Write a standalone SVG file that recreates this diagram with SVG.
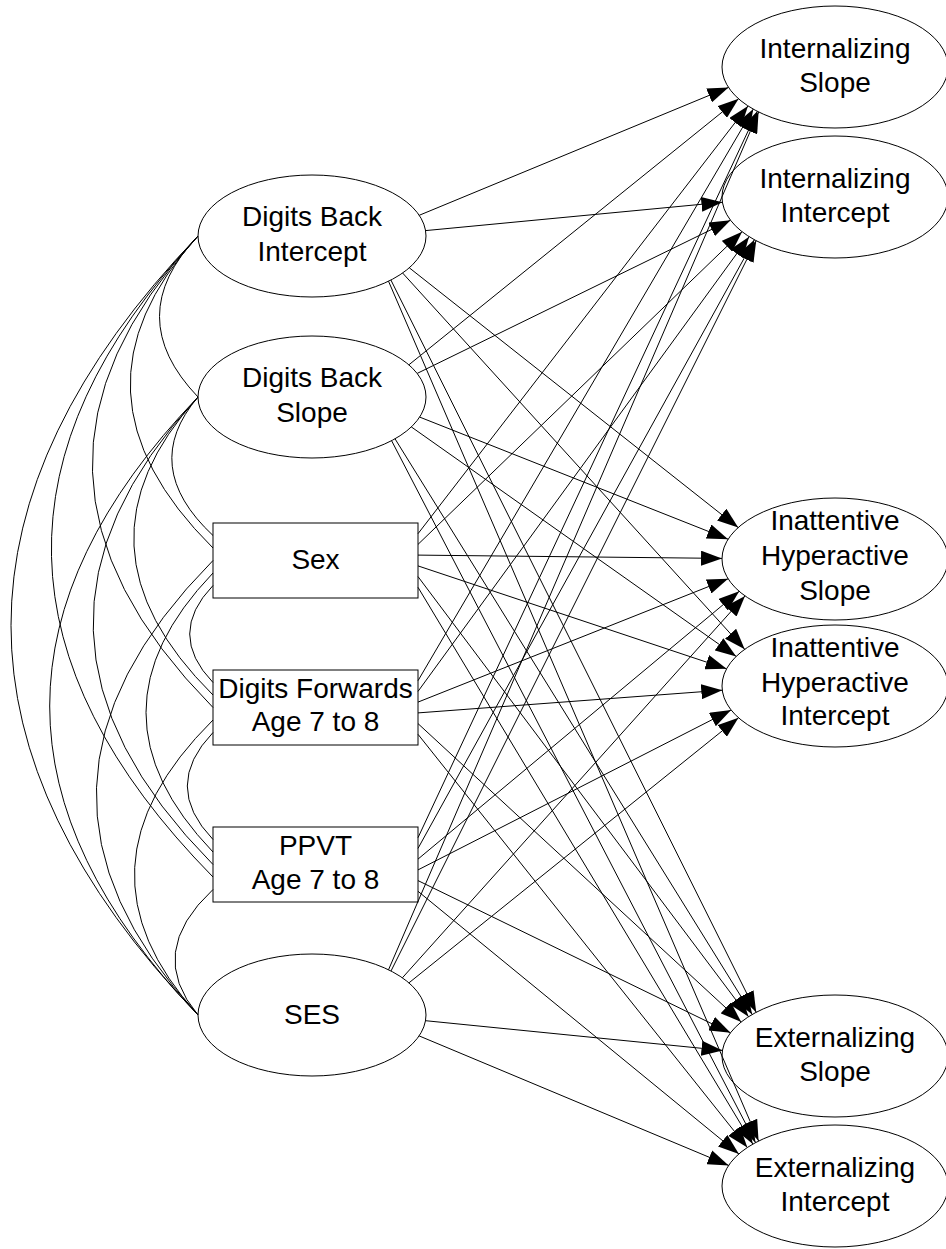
<svg xmlns="http://www.w3.org/2000/svg" width="946" height="1249" viewBox="0 0 946 1249">
<style>
.n{fill:#fff;stroke:#000;stroke-width:1}
.t{font-family:"Liberation Sans",Arial,sans-serif;font-size:28px;fill:#000;text-anchor:middle}
.c{fill:none;stroke:#000;stroke-width:1}
.a{fill:none;stroke:#000;stroke-width:1;marker-end:url(#ah)}
</style>
<defs>
<marker id="ah" markerUnits="userSpaceOnUse" markerWidth="21" markerHeight="15" refX="21" refY="7.5" orient="auto">
<path d="M0,0 L21,7.5 L0,15 z" fill="#000"/>
</marker>
</defs>
<rect width="946" height="1249" fill="#fff"/>
<g id="nodes">
<g id="digits-back-intercept"><ellipse class="n" cx="312" cy="236" rx="114" ry="61"/><text class="t" x="312" y="226">Digits Back</text><text class="t" x="312" y="261">Intercept</text></g>
<g id="digits-back-slope"><ellipse class="n" cx="312" cy="397" rx="114" ry="61"/><text class="t" x="312" y="387">Digits Back</text><text class="t" x="312" y="422">Slope</text></g>
<g id="sex"><rect class="n" x="213" y="523" width="205" height="75"/><text class="t" x="315.5" y="569">Sex</text></g>
<g id="digits-forwards"><rect class="n" x="213" y="670" width="205" height="75"/><text class="t" x="315.5" y="698">Digits Forwards</text><text class="t" x="315.5" y="731">Age 7 to 8</text></g>
<g id="ppvt"><rect class="n" x="213" y="827" width="205" height="75"/><text class="t" x="315.5" y="855">PPVT</text><text class="t" x="315.5" y="889">Age 7 to 8</text></g>
<g id="ses"><ellipse class="n" cx="312" cy="1015" rx="114" ry="61"/><text class="t" x="312" y="1024">SES</text></g>
<g id="internalizing-slope"><ellipse class="n" cx="835" cy="67" rx="113" ry="61"/><text class="t" x="835" y="58">Internalizing</text><text class="t" x="835" y="92">Slope</text></g>
<g id="internalizing-intercept"><ellipse class="n" cx="835" cy="197" rx="113" ry="61"/><text class="t" x="835" y="188">Internalizing</text><text class="t" x="835" y="222">Intercept</text></g>
<g id="ih-slope"><ellipse class="n" cx="835" cy="559" rx="113" ry="61"/><text class="t" x="835" y="530">Inattentive</text><text class="t" x="835" y="565">Hyperactive</text><text class="t" x="835" y="600">Slope</text></g>
<g id="ih-intercept"><ellipse class="n" cx="835" cy="686" rx="113" ry="61"/><text class="t" x="835" y="657">Inattentive</text><text class="t" x="835" y="692">Hyperactive</text><text class="t" x="835" y="725">Intercept</text></g>
<g id="externalizing-slope"><ellipse class="n" cx="835" cy="1056" rx="113" ry="61"/><text class="t" x="835" y="1047">Externalizing</text><text class="t" x="835" y="1081">Slope</text></g>
<g id="externalizing-intercept"><ellipse class="n" cx="835" cy="1186" rx="113" ry="61"/><text class="t" x="835" y="1177">Externalizing</text><text class="t" x="835" y="1211">Intercept</text></g>
</g>
<g id="connectors">
<g id="covariances">
<path class="c" d="M198,236 Q121,316.5 198,397"/>
<path class="c" d="M198,236 Q55.5,392 213,548"/>
<path class="c" d="M198,236 Q-20.5,471.75 213,707.5"/>
<path class="c" d="M198,236 Q-102.5,556.5 213,877"/>
<path class="c" d="M198,236 Q-176,625.5 198,1015"/>
<path class="c" d="M198,397 Q139,466.25 213,535.5"/>
<path class="c" d="M198,397 Q62.5,546 213,695"/>
<path class="c" d="M198,397 Q-18.9,630.75 213,864.5"/>
<path class="c" d="M198,397 Q-98.6,706 198,1015"/>
<path class="c" d="M213,585.5 Q166.4,634 213,682.5"/>
<path class="c" d="M213,573 Q79,712.5 213,852"/>
<path class="c" d="M213,560.5 Q-12.5,787.75 198,1015"/>
<path class="c" d="M213,732.5 Q161.6,786 213,839.5"/>
<path class="c" d="M213,720 Q63.9,867.5 198,1015"/>
<path class="c" d="M213,889.5 Q145.3,952.25 198,1015"/>
</g>
<g id="paths">
<line class="a" x1="419.2" y1="215.3" x2="728.5" y2="87.4"/>
<line class="a" x1="425.6" y1="230.6" x2="722.4" y2="202.3"/>
<line class="a" x1="409.3" y1="267.8" x2="738.2" y2="527.6"/>
<line class="a" x1="402.6" y1="273.0" x2="744.7" y2="649.3"/>
<line class="a" x1="390.9" y1="280.0" x2="756.2" y2="1012.3"/>
<line class="a" x1="388.5" y1="281.2" x2="758.6" y2="1141.0"/>
<line class="a" x1="408.9" y1="364.8" x2="738.6" y2="98.8"/>
<line class="a" x1="417.2" y1="373.4" x2="730.5" y2="220.2"/>
<line class="a" x1="419.7" y1="417.1" x2="728.1" y2="539.2"/>
<line class="a" x1="411.3" y1="426.9" x2="736.2" y2="656.4"/>
<line class="a" x1="395.0" y1="438.8" x2="752.2" y2="1014.5"/>
<line class="a" x1="391.6" y1="440.7" x2="755.5" y2="1142.6"/>
<line class="a" x1="418" y1="533.7" x2="748.0" y2="105.9"/>
<line class="a" x1="418" y1="544.4" x2="742.1" y2="231.7"/>
<line class="a" x1="418" y1="555.1" x2="722.0" y2="558.4"/>
<line class="a" x1="418" y1="565.9" x2="726.6" y2="668.8"/>
<line class="a" x1="418" y1="576.6" x2="748.5" y2="1016.7"/>
<line class="a" x1="418" y1="587.3" x2="752.8" y2="1144.1"/>
<line class="a" x1="418" y1="680.7" x2="753.3" y2="109.1"/>
<line class="a" x1="418" y1="691.4" x2="749.1" y2="236.7"/>
<line class="a" x1="418" y1="702.1" x2="728.1" y2="578.8"/>
<line class="a" x1="418" y1="712.9" x2="722.3" y2="690.2"/>
<line class="a" x1="418" y1="723.6" x2="741.2" y2="1022.0"/>
<line class="a" x1="418" y1="734.3" x2="747.3" y2="1147.5"/>
<line class="a" x1="418" y1="837.7" x2="757.3" y2="111.3"/>
<line class="a" x1="418" y1="848.4" x2="754.4" y2="239.7"/>
<line class="a" x1="418" y1="859.1" x2="739.2" y2="591.3"/>
<line class="a" x1="418" y1="869.9" x2="731.1" y2="710.0"/>
<line class="a" x1="418" y1="880.6" x2="730.5" y2="1032.8"/>
<line class="a" x1="418" y1="891.3" x2="738.9" y2="1154.0"/>
<line class="a" x1="388.5" y1="969.8" x2="758.6" y2="112.0"/>
<line class="a" x1="391.0" y1="971.0" x2="756.2" y2="240.7"/>
<line class="a" x1="402.4" y1="977.8" x2="745.0" y2="595.9"/>
<line class="a" x1="408.9" y1="982.9" x2="738.5" y2="717.8"/>
<line class="a" x1="425.5" y1="1020.7" x2="722.5" y2="1050.4"/>
<line class="a" x1="419.1" y1="1035.9" x2="728.7" y2="1165.4"/>
</g>
</g>
</svg>
